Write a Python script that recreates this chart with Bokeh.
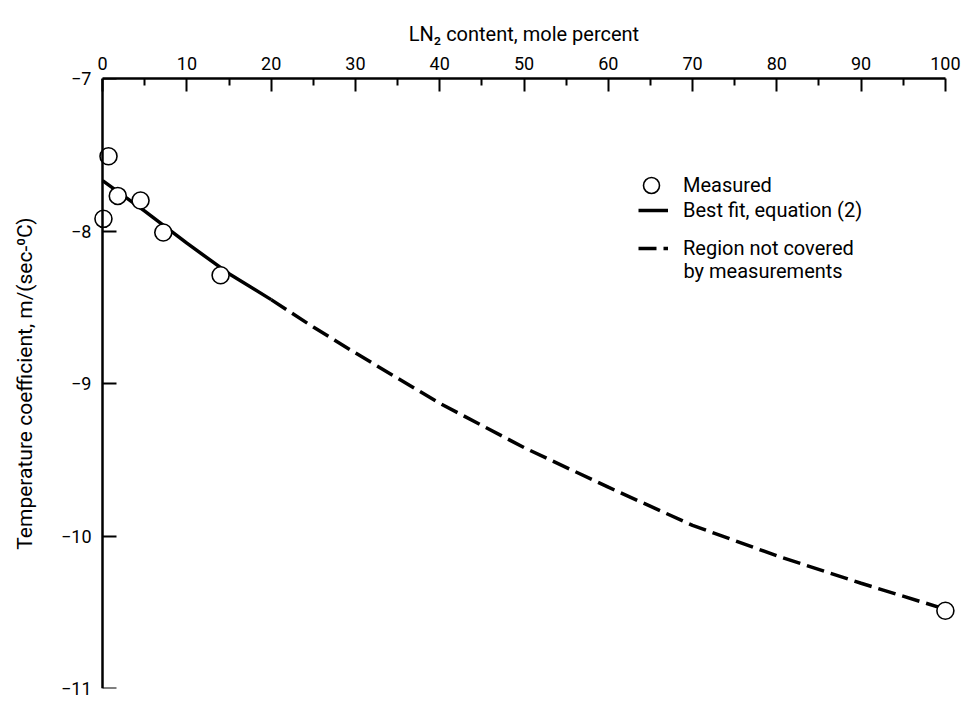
from bokeh.plotting import figure
from bokeh.models import Range1d, FixedTicker, Legend, LegendItem, Label, LinearAxis
from bokeh.embed import file_html
from bokeh.resources import INLINE

# Measured data
meas_x = [0.1, 0.7, 1.8, 4.5, 7.2, 14.0, 100.0]
meas_y = [-7.92, -7.51, -7.77, -7.80, -8.01, -8.29, -10.49]

# Best-fit curve
fit_x = [0, 5, 10, 15, 20]
fit_y = [-7.67, -7.87, -8.08, -8.28, -8.45]
ext_x = [20, 25, 30, 40, 50, 60, 70, 80, 90, 100]
ext_y = [-8.45, -8.63, -8.80, -9.13, -9.42, -9.68, -9.93, -10.13, -10.31, -10.48]

x_ticks = [0, 10, 20, 30, 40, 50, 60, 70, 80, 90, 100]
x_minor = [5, 15, 25, 35, 45, 55, 65, 75, 85, 95]
y_ticks = [-11, -10, -9, -8, -7]

FONT = "Roboto"

# frame is widened a little so the end markers are not clipped; axes keep 0..100
p = figure(width=962, height=700, output_backend="svg", toolbar_location=None,
           x_range=Range1d(-1.2, 101.2), y_range=Range1d(-11, -7),
           x_axis_location="above", y_axis_location="left",
           min_border_left=92, min_border_top=78, min_border_right=7, min_border_bottom=12)
p.outline_line_color = None
p.grid.visible = False

xa = p.xaxis[0]
xa.ticker = FixedTicker(ticks=x_ticks, minor_ticks=x_minor)
xa.bounds = (0, 100)
xa.axis_label = "LN₂ content, mole percent"

# labelled y axis at the frame edge (line and ticks hidden)
ya = p.yaxis[0]
ya.ticker = FixedTicker(ticks=y_ticks, minor_ticks=[])
ya.axis_label = "Temperature coefficient, m/(sec-⁰C)"
ya.axis_line_alpha = 0
ya.major_tick_line_alpha = 0
ya.minor_tick_line_alpha = 0

for ax in (xa, ya):
    ax.axis_line_width = 2.5
    ax.axis_line_color = "black"
    ax.major_tick_line_width = 2
    ax.minor_tick_line_width = 2
    ax.major_tick_out = 0
    ax.minor_tick_out = 0
    ax.major_label_text_font = FONT
    ax.major_label_text_font_size = "18px"
    ax.major_label_text_color = "black"
    ax.axis_label_text_font = FONT
    ax.axis_label_text_font_size = "20px"
    ax.axis_label_text_font_style = "normal"
    ax.axis_label_text_color = "black"
ya.axis_label_text_font_size = "21px"
xa.major_label_standoff = 9
ya.major_label_standoff = 1
xa.major_tick_in = 13
xa.minor_tick_in = 7
xa.axis_label_standoff = 8
ya.major_tick_in = 0
ya.minor_tick_in = 0
ya.axis_label_standoff = 21

# y axis line and ticks drawn at x = 0 (no labels of its own)
yline = LinearAxis(fixed_location=0, ticker=FixedTicker(ticks=y_ticks, minor_ticks=[]),
                   axis_line_width=2.5, axis_line_color="black",
                   major_tick_line_width=2, major_tick_in=14, major_tick_out=0,
                   minor_tick_in=0, minor_tick_out=0,
                   major_label_overrides={t: "" for t in y_ticks},
                   major_label_standoff=0)
p.add_layout(yline, "left")

r_fit = p.line(fit_x, fit_y, line_color="black", line_width=3.5)
r_ext = p.line(ext_x, ext_y, line_color="black", line_width=3.5, line_dash="18 7")
r_meas = p.scatter(meas_x, meas_y, size=17, marker="circle", fill_color="white",
                   line_color="black", line_width=1.6)


def make_legend(label, renderer, loc, gw, gh, standoff):
    lg = Legend(items=[LegendItem(label=label, renderers=[renderer])], location=loc)
    lg.border_line_color = None
    lg.background_fill_alpha = 0
    lg.padding = 0
    lg.margin = 0
    lg.label_text_font = FONT
    lg.label_text_font_size = "20px"
    lg.label_text_color = "black"
    lg.glyph_width = gw
    lg.glyph_height = gh
    lg.label_standoff = standoff
    p.add_layout(lg)
    return lg


make_legend("Measured", r_meas, (539, 483), 40, 40, 12)
make_legend("Best fit, equation (2)", r_fit, (546, 466), 30, 20, 15)
make_legend("Region not covered", r_ext, (546, 428), 30, 20, 15)
p.add_layout(Label(x=683 - 92, y=418, x_units="screen", y_units="screen",
                   text="by measurements", text_font=FONT, text_font_size="20px",
                   text_color="black", text_baseline="middle"))

open("out.html", "w").write(file_html(p, INLINE))
